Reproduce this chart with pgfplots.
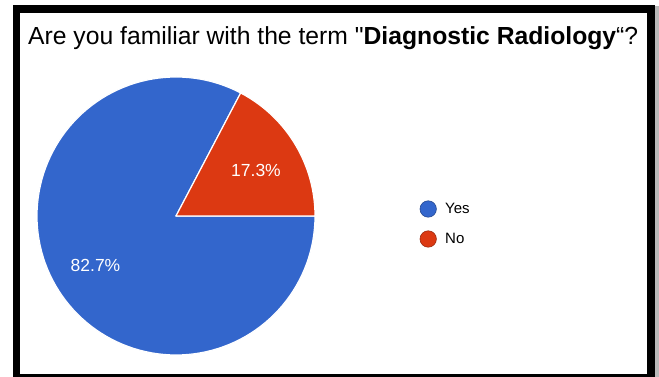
\documentclass[border=0pt]{standalone}
\usepackage{pgfplots}
\usepackage{pgfplotstable}
\pgfplotsset{compat=1.18}
\usepackage{fontspec}
\setmainfont{Liberation Sans}

\definecolor{pieblue}{HTML}{3366CC}
\definecolor{piered}{HTML}{DC3912}

% survey answers, in percent
\pgfplotstableread{
answer share
Yes 82.7
No 17.3
}\answers

\pgfplotstablegetelem{0}{share}\of\answers
\let\yesshare\pgfplotsretval
\pgfplotstablegetelem{1}{share}\of\answers
\let\noshare\pgfplotsretval
\pgfmathsetmacro\noangle{\noshare*3.6}

\begin{document}
\begin{tikzpicture}[x=1pt,y=1pt]
\useasboundingbox (0,0) rectangle (659,377);
% card frame with its shadow
\fill[gray!55] (655,0) rectangle (659,371);
\fill[black] (13,0) rectangle (655,372);
\fill[white] (20,3) rectangle (647,364);

\node[anchor=base west, inner sep=0pt, font=\fontsize{24.7}{27}\selectfont]
  at (28,332) {Are you familiar with the term \textquotedbl\textbf{Diagnostic Radiology}“?};

\begin{axis}[
  at={(0,0)}, anchor=south west,
  width=659pt, height=377pt, scale only axis,
  xmin=0, xmax=659, ymin=0, ymax=377,
  hide axis, clip=false,
  legend style={at={(axis cs:419.5,153)}, anchor=west, draw=none, fill=none,
    font=\fontsize{15}{15}\selectfont, row sep=13pt, inner sep=0pt,
    /tikz/every odd column/.append style={column sep=6.5pt}},
  legend cell align=left,
]
% "Yes" slice
\addplot[forget plot, fill=pieblue, draw=white, line width=1.2pt, line join=round,
  domain=\noangle:360, samples=120, variable=\t]
  ({176+139*cos(t)}, {161+139*sin(t)}) -- (axis cs:176,161) -- cycle;
% "No" slice
\addplot[forget plot, fill=piered, draw=white, line width=1.2pt, line join=round,
  domain=0:\noangle, samples=40, variable=\t]
  ({176+139*cos(t)}, {161+139*sin(t)}) -- (axis cs:176,161) -- cycle;

\node[white, font=\fontsize{17.5}{18}\selectfont] at (axis cs:256,207) {\noshare\%};
\node[white, font=\fontsize{17.5}{18}\selectfont] at (axis cs:95.5,111.5) {\yesshare\%};

\addlegendimage{legend image code/.code={\fill[pieblue, draw=pieblue!70!black, line width=0.6pt] (0pt,0pt) circle (8.2pt);}}
\addlegendentry{Yes}
\addlegendimage{legend image code/.code={\fill[piered, draw=piered!70!black, line width=0.6pt] (0pt,0pt) circle (8.2pt);}}
\addlegendentry{No}
\end{axis}
\end{tikzpicture}
\end{document}
